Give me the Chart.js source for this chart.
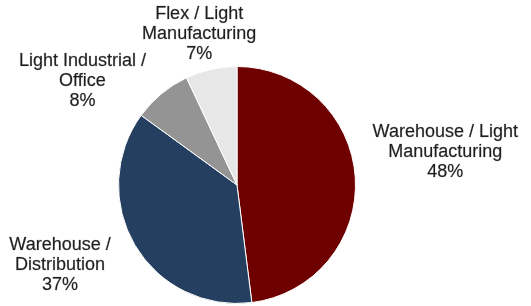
<!DOCTYPE html>
<html>
<head>
<meta charset="utf-8">
<script src="https://cdn.jsdelivr.net/npm/chart.js@4.4.1/dist/chart.umd.min.js"></script>
<style>
  html, body { margin: 0; padding: 0; background: #fff; }
  #wrap { width: 531px; height: 306px; position: relative; }
</style>
</head>
<body>
<div id="wrap"><canvas id="myChart"></canvas></div>
<script>
// data
var categories = [
    ['Warehouse / Light', 'Manufacturing'],
    ['Warehouse /', 'Distribution'],
    ['Light Industrial /', 'Office'],
    ['Flex / Light', 'Manufacturing']
];
var shares = [48, 37, 8, 7];
var colours = ['#6f0000', '#253f60', '#949494', '#e7e7e7'];

// where each label sits, measured from the outer edge of its slice
var labelOffsets = [[90, -26], [-75, 20], [-79, -13], [-12, -35]];

var sliceLabels = {
    id: 'sliceLabels',
    afterDatasetsDraw: function(chart) {
        var ctx = chart.ctx;
        var meta = chart.getDatasetMeta(0);
        ctx.save();
        ctx.font = '18px "Liberation Sans", Arial, sans-serif';
        ctx.fillStyle = '#1f1f1f';
        ctx.strokeStyle = 'rgba(31,31,31,0.35)';
        ctx.lineWidth = 0.6;
        ctx.textAlign = 'center';
        ctx.textBaseline = 'middle';
        meta.data.forEach(function(arc, i) {
            var mid = (arc.startAngle + arc.endAngle) / 2;
            var ex = arc.x + Math.cos(mid) * arc.outerRadius;
            var ey = arc.y + Math.sin(mid) * arc.outerRadius;
            var cx = ex + labelOffsets[i][0];
            var cy = ey + labelOffsets[i][1];
            var lines = categories[i].concat([shares[i] + '%']);
            var lh = 20;
            var top = cy - (lines.length - 1) * lh / 2;
            lines.forEach(function(t, j) {
                ctx.fillText(t, cx, top + j * lh);
                ctx.strokeText(t, cx, top + j * lh);
            });
        });
        ctx.restore();
    }
};

var ctx = document.getElementById('myChart').getContext('2d');
var chart = new Chart(ctx, {
    type: 'pie',
    data: {
        labels: categories,
        datasets: [{
            data: shares,
            backgroundColor: colours,
            borderColor: '#ffffff',
            borderWidth: 1
        }]
    },
    options: {
        responsive: true,
        maintainAspectRatio: false,
        animation: false,
        layout: { padding: { top: 66, bottom: 2, left: 100, right: 157 } },
        plugins: {
            legend: { display: false },
            tooltip: { enabled: false }
        }
    },
    plugins: [sliceLabels]
});
</script>
</body>
</html>
